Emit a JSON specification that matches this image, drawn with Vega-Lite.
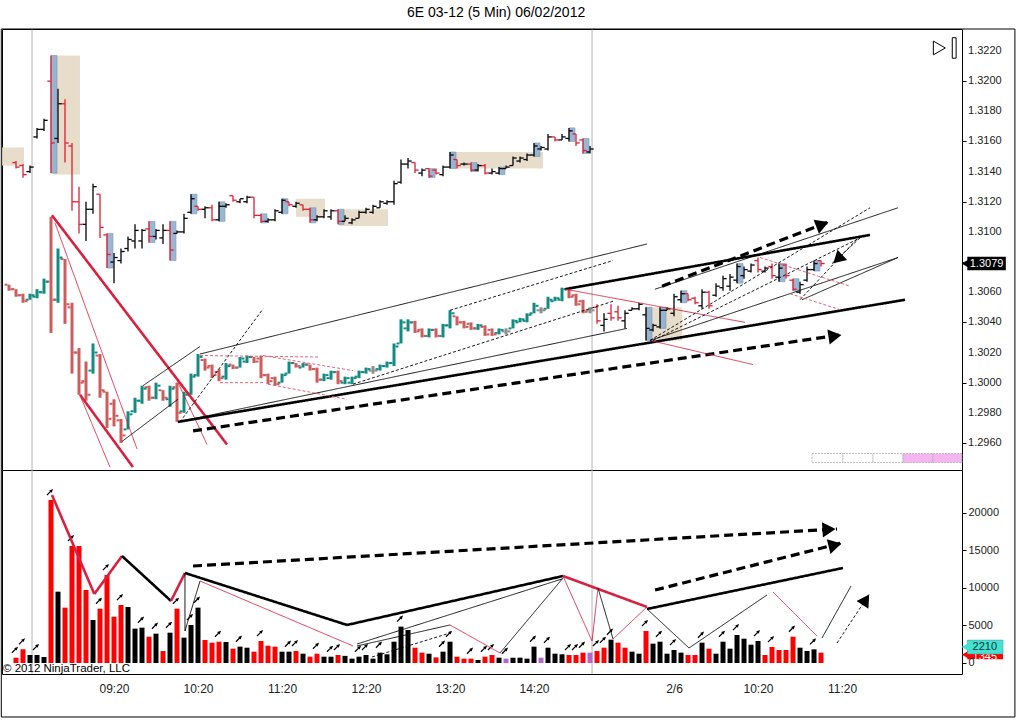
{
  "$schema": "https://vega.github.io/schema/vega-lite/v6.json",
  "title": {"text": "6E 03-12 (5 Min)  06/02/2012", "fontSize": 14, "fontWeight": "normal", "font": "Liberation Sans", "color": "#000000", "offset": 8, "anchor": "middle", "dx": -12},
  "padding": {"left": 0, "top": 6, "right": 0, "bottom": 0},
  "background": "white",
  "spacing": 0,
  "bounds": "flush",
  "config": {
    "view": {"stroke": "#000000", "strokeWidth": 1},
    "font": "Liberation Sans",
    "scale": {"continuousPadding": 0},
    "axis": {"labelFont": "Liberation Sans", "labelFontSize": 11, "labelColor": "#222222", "tickColor": "#000000", "domain": false, "grid": false, "title": null, "labelOverlap": false}
  },
  "datasets": {
    "thin": [
      {"k":0,"o":1.3146,"h":1.3147,"l":1.3142,"c":1.3143,"d":"dn"},
      {"k":1,"o":1.3144,"h":1.3145,"l":1.3136,"c":1.3138,"d":"dn"},
      {"k":2,"o":1.3140,"h":1.3144,"l":1.3139,"c":1.3143,"d":"up"},
      {"k":3,"o":1.3163,"h":1.3169,"l":1.3162,"c":1.3168,"d":"up"},
      {"k":4,"o":1.3168,"h":1.3175,"l":1.3167,"c":1.3174,"d":"up"},
      {"k":5,"o":1.3200,"h":1.3217,"l":1.3139,"c":1.3159,"d":"dn","b":1},
      {"k":6,"o":1.3162,"h":1.3195,"l":1.3159,"c":1.3185,"d":"up"},
      {"k":7,"o":1.3185,"h":1.3188,"l":1.3146,"c":1.3159,"d":"dn"},
      {"k":8,"o":1.3157,"h":1.3159,"l":1.3114,"c":1.3120,"d":"dn"},
      {"k":9,"o":1.3120,"h":1.3130,"l":1.3099,"c":1.3105,"d":"dn"},
      {"k":10,"o":1.3105,"h":1.3120,"l":1.3094,"c":1.3115,"d":"up"},
      {"k":11,"o":1.3115,"h":1.3132,"l":1.3112,"c":1.3130,"d":"up"},
      {"k":12,"o":1.3125,"h":1.3125,"l":1.3096,"c":1.3103,"d":"dn"},
      {"k":13,"o":1.3098,"h":1.3099,"l":1.3076,"c":1.3085,"d":"dn","b":1},
      {"k":14,"o":1.3080,"h":1.3086,"l":1.3066,"c":1.3083,"d":"up"},
      {"k":15,"o":1.3081,"h":1.3089,"l":1.3079,"c":1.3087,"d":"up"},
      {"k":16,"o":1.3089,"h":1.3097,"l":1.3087,"c":1.3095,"d":"up"},
      {"k":17,"o":1.3094,"h":1.3105,"l":1.3089,"c":1.3101,"d":"up"},
      {"k":18,"o":1.3094,"h":1.3102,"l":1.3089,"c":1.3101,"d":"up"},
      {"k":19,"o":1.3102,"h":1.3107,"l":1.3093,"c":1.3097,"d":"dn","b":1},
      {"k":20,"o":1.3097,"h":1.3102,"l":1.3095,"c":1.3101,"d":"up"},
      {"k":21,"o":1.3096,"h":1.3105,"l":1.3092,"c":1.3101,"d":"up"},
      {"k":22,"o":1.3101,"h":1.3107,"l":1.3081,"c":1.3088,"d":"dn","b":1},
      {"k":23,"o":1.3099,"h":1.3101,"l":1.3099,"c":1.3100,"d":"up"},
      {"k":24,"o":1.3100,"h":1.3112,"l":1.3099,"c":1.3109,"d":"up"},
      {"k":25,"o":1.3113,"h":1.3125,"l":1.3112,"c":1.3122,"d":"up","b":1},
      {"k":26,"o":1.3117,"h":1.3117,"l":1.3114,"c":1.3115,"d":"dn"},
      {"k":27,"o":1.3115,"h":1.3117,"l":1.3109,"c":1.3116,"d":"up"},
      {"k":28,"o":1.3116,"h":1.3118,"l":1.3107,"c":1.3108,"d":"dn"},
      {"k":29,"o":1.3108,"h":1.3120,"l":1.3107,"c":1.3117,"d":"up","b":1},
      {"k":30,"o":1.3117,"h":1.3119,"l":1.3116,"c":1.3118,"d":"up"},
      {"k":31,"o":1.3124,"h":1.3124,"l":1.3120,"c":1.3121,"d":"dn"},
      {"k":32,"o":1.3120,"h":1.3122,"l":1.3119,"c":1.3122,"d":"up"},
      {"k":33,"o":1.3120,"h":1.3124,"l":1.3119,"c":1.3123,"d":"up"},
      {"k":34,"o":1.3123,"h":1.3123,"l":1.3109,"c":1.3111,"d":"dn"},
      {"k":35,"o":1.3111,"h":1.3112,"l":1.3106,"c":1.3107,"d":"dn","b":1},
      {"k":36,"o":1.3107,"h":1.3109,"l":1.3106,"c":1.3108,"d":"up"},
      {"k":37,"o":1.3108,"h":1.3115,"l":1.3107,"c":1.3114,"d":"up"},
      {"k":38,"o":1.3113,"h":1.3122,"l":1.3112,"c":1.3121,"d":"up","b":1},
      {"k":39,"o":1.3120,"h":1.3120,"l":1.3117,"c":1.3118,"d":"dn"},
      {"k":40,"o":1.3117,"h":1.3120,"l":1.3116,"c":1.3119,"d":"up"},
      {"k":41,"o":1.3118,"h":1.3118,"l":1.3114,"c":1.3115,"d":"dn"},
      {"k":42,"o":1.3115,"h":1.3116,"l":1.3106,"c":1.3108,"d":"dn","b":1},
      {"k":43,"o":1.3108,"h":1.3111,"l":1.3107,"c":1.3110,"d":"up"},
      {"k":44,"o":1.3110,"h":1.3115,"l":1.3109,"c":1.3114,"d":"up"},
      {"k":45,"o":1.3110,"h":1.3115,"l":1.3108,"c":1.3114,"d":"up"},
      {"k":46,"o":1.3114,"h":1.3115,"l":1.3105,"c":1.3107,"d":"dn","b":1},
      {"k":47,"o":1.3107,"h":1.3111,"l":1.3107,"c":1.3109,"d":"up"},
      {"k":48,"o":1.3106,"h":1.3109,"l":1.3105,"c":1.3108,"d":"up"},
      {"k":49,"o":1.3109,"h":1.3114,"l":1.3109,"c":1.3113,"d":"up"},
      {"k":50,"o":1.3113,"h":1.3116,"l":1.3112,"c":1.3115,"d":"up"},
      {"k":51,"o":1.3113,"h":1.3118,"l":1.3112,"c":1.3117,"d":"up"},
      {"k":52,"o":1.3116,"h":1.3121,"l":1.3116,"c":1.3120,"d":"up"},
      {"k":53,"o":1.3119,"h":1.3121,"l":1.3118,"c":1.3120,"d":"up"},
      {"k":54,"o":1.3120,"h":1.3134,"l":1.3118,"c":1.3132,"d":"up"},
      {"k":55,"o":1.3133,"h":1.3148,"l":1.3132,"c":1.3145,"d":"up"},
      {"k":56,"o":1.3145,"h":1.3149,"l":1.3142,"c":1.3147,"d":"up"},
      {"k":57,"o":1.3146,"h":1.3146,"l":1.3139,"c":1.3141,"d":"dn"},
      {"k":58,"o":1.3139,"h":1.3142,"l":1.3137,"c":1.3141,"d":"up"},
      {"k":59,"o":1.3142,"h":1.3142,"l":1.3136,"c":1.3137,"d":"dn","b":1},
      {"k":60,"o":1.3141,"h":1.3142,"l":1.3138,"c":1.3139,"d":"dn"},
      {"k":61,"o":1.3138,"h":1.3144,"l":1.3137,"c":1.3143,"d":"up"},
      {"k":62,"o":1.3143,"h":1.3153,"l":1.3142,"c":1.3151,"d":"up","b":1},
      {"k":63,"o":1.3148,"h":1.3148,"l":1.3142,"c":1.3144,"d":"dn"},
      {"k":64,"o":1.3145,"h":1.3146,"l":1.3144,"c":1.3145,"d":"up"},
      {"k":65,"o":1.3145,"h":1.3146,"l":1.3140,"c":1.3141,"d":"dn","b":1},
      {"k":66,"o":1.3141,"h":1.3145,"l":1.3140,"c":1.3144,"d":"up"},
      {"k":67,"o":1.3144,"h":1.3145,"l":1.3138,"c":1.3139,"d":"dn"},
      {"k":68,"o":1.3139,"h":1.3142,"l":1.3138,"c":1.3140,"d":"up"},
      {"k":69,"o":1.3139,"h":1.3143,"l":1.3138,"c":1.3142,"d":"up","b":1},
      {"k":70,"o":1.3142,"h":1.3144,"l":1.3142,"c":1.3143,"d":"up"},
      {"k":71,"o":1.3144,"h":1.3150,"l":1.3144,"c":1.3149,"d":"up"},
      {"k":72,"o":1.3147,"h":1.3150,"l":1.3146,"c":1.3149,"d":"up"},
      {"k":73,"o":1.3148,"h":1.3152,"l":1.3147,"c":1.3151,"d":"up"},
      {"k":74,"o":1.3151,"h":1.3159,"l":1.3150,"c":1.3157,"d":"up","b":1},
      {"k":75,"o":1.3155,"h":1.3157,"l":1.3154,"c":1.3156,"d":"up"},
      {"k":76,"o":1.3155,"h":1.3165,"l":1.3154,"c":1.3163,"d":"up"},
      {"k":77,"o":1.3163,"h":1.3163,"l":1.3160,"c":1.3161,"d":"dn"},
      {"k":78,"o":1.3161,"h":1.3165,"l":1.3161,"c":1.3163,"d":"up"},
      {"k":79,"o":1.3162,"h":1.3169,"l":1.3160,"c":1.3167,"d":"up","b":1},
      {"k":80,"o":1.3165,"h":1.3165,"l":1.3157,"c":1.3159,"d":"dn"},
      {"k":81,"o":1.3161,"h":1.3162,"l":1.3152,"c":1.3154,"d":"dn","b":1},
      {"k":82,"o":1.3153,"h":1.3157,"l":1.3152,"c":1.3155,"d":"up"},
      {"k":83,"o":1.3050,"h":1.3052,"l":1.3039,"c":1.3041,"d":"dn"},
      {"k":84,"o":1.3038,"h":1.3046,"l":1.3034,"c":1.3042,"d":"up"},
      {"k":85,"o":1.3046,"h":1.3052,"l":1.3041,"c":1.3043,"d":"dn"},
      {"k":86,"o":1.3047,"h":1.3051,"l":1.3041,"c":1.3043,"d":"dn"},
      {"k":87,"o":1.3041,"h":1.3048,"l":1.3036,"c":1.3046,"d":"up"},
      {"k":88,"o":1.3048,"h":1.3050,"l":1.3048,"c":1.3049,"d":"up"},
      {"k":89,"o":1.3049,"h":1.3053,"l":1.3048,"c":1.3052,"d":"up"},
      {"k":90,"o":1.3045,"h":1.3050,"l":1.3028,"c":1.3036,"d":"up","b":1},
      {"k":91,"o":1.3035,"h":1.3039,"l":1.3034,"c":1.3038,"d":"up"},
      {"k":92,"o":1.3037,"h":1.3050,"l":1.3036,"c":1.3048,"d":"up","b":1},
      {"k":93,"o":1.3048,"h":1.3050,"l":1.3048,"c":1.3049,"d":"up"},
      {"k":94,"o":1.3046,"h":1.3059,"l":1.3044,"c":1.3057,"d":"up"},
      {"k":95,"o":1.3055,"h":1.3061,"l":1.3053,"c":1.3059,"d":"up","b":1},
      {"k":96,"o":1.3059,"h":1.3059,"l":1.3054,"c":1.3055,"d":"dn"},
      {"k":97,"o":1.3056,"h":1.3057,"l":1.3052,"c":1.3053,"d":"dn"},
      {"k":98,"o":1.3051,"h":1.3062,"l":1.3049,"c":1.3060,"d":"up"},
      {"k":99,"o":1.3060,"h":1.3061,"l":1.3049,"c":1.3051,"d":"dn"},
      {"k":100,"o":1.3058,"h":1.3066,"l":1.3057,"c":1.3064,"d":"up"},
      {"k":101,"o":1.3063,"h":1.3071,"l":1.3061,"c":1.3069,"d":"up"},
      {"k":102,"o":1.3064,"h":1.3072,"l":1.3061,"c":1.3070,"d":"up"},
      {"k":103,"o":1.3068,"h":1.3079,"l":1.3066,"c":1.3077,"d":"up","b":1},
      {"k":104,"o":1.3071,"h":1.3077,"l":1.3069,"c":1.3075,"d":"up"},
      {"k":105,"o":1.3074,"h":1.3079,"l":1.3073,"c":1.3078,"d":"up"},
      {"k":106,"o":1.3081,"h":1.3083,"l":1.3073,"c":1.3075,"d":"dn"},
      {"k":107,"o":1.3074,"h":1.3077,"l":1.3073,"c":1.3076,"d":"up"},
      {"k":108,"o":1.3077,"h":1.3079,"l":1.3069,"c":1.3071,"d":"dn"},
      {"k":109,"o":1.3070,"h":1.3079,"l":1.3067,"c":1.3076,"d":"up","b":1},
      {"k":110,"o":1.3078,"h":1.3079,"l":1.3069,"c":1.3071,"d":"dn"},
      {"k":111,"o":1.3068,"h":1.3069,"l":1.3061,"c":1.3062,"d":"dn","b":1},
      {"k":112,"o":1.3060,"h":1.3067,"l":1.3059,"c":1.3065,"d":"up"},
      {"k":113,"o":1.3068,"h":1.3077,"l":1.3067,"c":1.3075,"d":"up"},
      {"k":114,"o":1.3075,"h":1.3081,"l":1.3074,"c":1.3079,"d":"up","b":1},
      {"k":115,"o":1.3081,"h":1.3081,"l":1.3077,"c":1.3079,"d":"dn"}
    ],
    "thick": [
      {"k":-1,"o":1.3065,"h":1.3065,"l":1.3061,"c":1.3062,"d":"dn"},
      {"k":0,"o":1.3062,"h":1.3062,"l":1.3057,"c":1.3058,"d":"dn"},
      {"k":1,"o":1.3058,"h":1.3059,"l":1.3053,"c":1.3054,"d":"dn"},
      {"k":2,"o":1.3055,"h":1.3059,"l":1.3055,"c":1.3058,"d":"up"},
      {"k":3,"o":1.3057,"h":1.3062,"l":1.3056,"c":1.3060,"d":"up"},
      {"k":4,"o":1.3060,"h":1.3069,"l":1.3059,"c":1.3067,"d":"up"},
      {"k":5,"o":1.3067,"h":1.3110,"l":1.3033,"c":1.3055,"d":"dn"},
      {"k":6,"o":1.3055,"h":1.3089,"l":1.3053,"c":1.3083,"d":"up"},
      {"k":7,"o":1.3082,"h":1.3082,"l":1.3039,"c":1.3052,"d":"dn"},
      {"k":8,"o":1.3050,"h":1.3053,"l":1.3006,"c":1.3020,"d":"dn"},
      {"k":9,"o":1.3020,"h":1.3023,"l":1.2992,"c":1.3000,"d":"dn"},
      {"k":10,"o":1.3001,"h":1.3014,"l":1.2988,"c":1.2992,"d":"dn"},
      {"k":11,"o":1.3008,"h":1.3026,"l":1.3006,"c":1.3020,"d":"up"},
      {"k":12,"o":1.3018,"h":1.3019,"l":1.2990,"c":1.2995,"d":"dn"},
      {"k":13,"o":1.2994,"h":1.2994,"l":1.2970,"c":1.2976,"d":"dn"},
      {"k":14,"o":1.2986,"h":1.2989,"l":1.2971,"c":1.2978,"d":"dn"},
      {"k":15,"o":1.2975,"h":1.2976,"l":1.2960,"c":1.2965,"d":"dn"},
      {"k":16,"o":1.2969,"h":1.2981,"l":1.2969,"c":1.2979,"d":"up"},
      {"k":17,"o":1.2981,"h":1.2990,"l":1.2980,"c":1.2988,"d":"up"},
      {"k":18,"o":1.2988,"h":1.2998,"l":1.2986,"c":1.2996,"d":"up"},
      {"k":19,"o":1.2997,"h":1.2998,"l":1.2988,"c":1.2990,"d":"dn"},
      {"k":20,"o":1.2990,"h":1.3000,"l":1.2989,"c":1.2998,"d":"up"},
      {"k":21,"o":1.2995,"h":1.2995,"l":1.2988,"c":1.2990,"d":"dn"},
      {"k":22,"o":1.2989,"h":1.2998,"l":1.2984,"c":1.2996,"d":"up"},
      {"k":23,"o":1.2997,"h":1.3000,"l":1.2974,"c":1.2980,"d":"dn"},
      {"k":24,"o":1.2981,"h":1.2994,"l":1.2980,"c":1.2992,"d":"up"},
      {"k":25,"o":1.2993,"h":1.3006,"l":1.2992,"c":1.3004,"d":"up"},
      {"k":26,"o":1.3005,"h":1.3019,"l":1.3004,"c":1.3017,"d":"up"},
      {"k":27,"o":1.3015,"h":1.3016,"l":1.3008,"c":1.3010,"d":"dn"},
      {"k":28,"o":1.3011,"h":1.3012,"l":1.3003,"c":1.3005,"d":"dn"},
      {"k":29,"o":1.3007,"h":1.3009,"l":1.3001,"c":1.3003,"d":"dn"},
      {"k":30,"o":1.3004,"h":1.3013,"l":1.3002,"c":1.3011,"d":"up"},
      {"k":31,"o":1.3012,"h":1.3012,"l":1.3009,"c":1.3010,"d":"dn"},
      {"k":32,"o":1.3010,"h":1.3017,"l":1.3010,"c":1.3016,"d":"up"},
      {"k":33,"o":1.3014,"h":1.3018,"l":1.3013,"c":1.3017,"d":"up"},
      {"k":34,"o":1.3017,"h":1.3017,"l":1.3013,"c":1.3014,"d":"dn"},
      {"k":35,"o":1.3016,"h":1.3018,"l":1.3003,"c":1.3005,"d":"dn"},
      {"k":36,"o":1.3005,"h":1.3006,"l":1.2999,"c":1.3001,"d":"dn"},
      {"k":37,"o":1.3003,"h":1.3004,"l":1.2998,"c":1.2999,"d":"dn"},
      {"k":38,"o":1.3000,"h":1.3006,"l":1.3000,"c":1.3005,"d":"up"},
      {"k":39,"o":1.3006,"h":1.3014,"l":1.3006,"c":1.3013,"d":"up"},
      {"k":40,"o":1.3013,"h":1.3013,"l":1.3010,"c":1.3011,"d":"dn"},
      {"k":41,"o":1.3010,"h":1.3013,"l":1.3010,"c":1.3012,"d":"up"},
      {"k":42,"o":1.3012,"h":1.3012,"l":1.3008,"c":1.3009,"d":"dn"},
      {"k":43,"o":1.3009,"h":1.3010,"l":1.3000,"c":1.3002,"d":"dn"},
      {"k":44,"o":1.3002,"h":1.3006,"l":1.3001,"c":1.3005,"d":"up"},
      {"k":45,"o":1.3003,"h":1.3008,"l":1.3002,"c":1.3007,"d":"up"},
      {"k":46,"o":1.3007,"h":1.3008,"l":1.2999,"c":1.3001,"d":"dn"},
      {"k":47,"o":1.3000,"h":1.3004,"l":1.2999,"c":1.3003,"d":"up"},
      {"k":48,"o":1.3000,"h":1.3004,"l":1.2999,"c":1.3003,"d":"up"},
      {"k":49,"o":1.3004,"h":1.3008,"l":1.3003,"c":1.3007,"d":"up"},
      {"k":50,"o":1.3007,"h":1.3010,"l":1.3006,"c":1.3009,"d":"up"},
      {"k":51,"o":1.3008,"h":1.3011,"l":1.3006,"c":1.3008,"d":"fl"},
      {"k":52,"o":1.3009,"h":1.3012,"l":1.3008,"c":1.3011,"d":"up"},
      {"k":53,"o":1.3011,"h":1.3014,"l":1.3010,"c":1.3013,"d":"up"},
      {"k":54,"o":1.3013,"h":1.3026,"l":1.3011,"c":1.3024,"d":"up"},
      {"k":55,"o":1.3026,"h":1.3042,"l":1.3026,"c":1.3040,"d":"up"},
      {"k":56,"o":1.3036,"h":1.3042,"l":1.3034,"c":1.3040,"d":"up"},
      {"k":57,"o":1.3040,"h":1.3041,"l":1.3033,"c":1.3034,"d":"dn"},
      {"k":58,"o":1.3035,"h":1.3036,"l":1.3030,"c":1.3031,"d":"dn"},
      {"k":59,"o":1.3031,"h":1.3036,"l":1.3030,"c":1.3035,"d":"up"},
      {"k":60,"o":1.3035,"h":1.3036,"l":1.3030,"c":1.3031,"d":"dn"},
      {"k":61,"o":1.3031,"h":1.3039,"l":1.3030,"c":1.3038,"d":"up"},
      {"k":62,"o":1.3038,"h":1.3048,"l":1.3036,"c":1.3046,"d":"up"},
      {"k":63,"o":1.3044,"h":1.3044,"l":1.3038,"c":1.3040,"d":"dn"},
      {"k":64,"o":1.3040,"h":1.3041,"l":1.3036,"c":1.3037,"d":"dn"},
      {"k":65,"o":1.3039,"h":1.3040,"l":1.3035,"c":1.3036,"d":"dn"},
      {"k":66,"o":1.3036,"h":1.3039,"l":1.3035,"c":1.3038,"d":"up"},
      {"k":67,"o":1.3037,"h":1.3038,"l":1.3031,"c":1.3032,"d":"dn"},
      {"k":68,"o":1.3035,"h":1.3036,"l":1.3031,"c":1.3032,"d":"dn"},
      {"k":69,"o":1.3033,"h":1.3036,"l":1.3032,"c":1.3035,"d":"up"},
      {"k":70,"o":1.3034,"h":1.3036,"l":1.3032,"c":1.3034,"d":"fl"},
      {"k":71,"o":1.3036,"h":1.3042,"l":1.3036,"c":1.3041,"d":"up"},
      {"k":72,"o":1.3040,"h":1.3043,"l":1.3040,"c":1.3042,"d":"up"},
      {"k":73,"o":1.3041,"h":1.3046,"l":1.3040,"c":1.3045,"d":"up"},
      {"k":74,"o":1.3046,"h":1.3053,"l":1.3046,"c":1.3051,"d":"up"},
      {"k":75,"o":1.3048,"h":1.3050,"l":1.3046,"c":1.3048,"d":"fl"},
      {"k":76,"o":1.3049,"h":1.3057,"l":1.3049,"c":1.3055,"d":"up"},
      {"k":77,"o":1.3054,"h":1.3057,"l":1.3054,"c":1.3056,"d":"up"},
      {"k":78,"o":1.3055,"h":1.3063,"l":1.3054,"c":1.3062,"d":"up"},
      {"k":79,"o":1.3062,"h":1.3062,"l":1.3056,"c":1.3057,"d":"dn"},
      {"k":80,"o":1.3058,"h":1.3059,"l":1.3051,"c":1.3052,"d":"dn"},
      {"k":81,"o":1.3054,"h":1.3055,"l":1.3046,"c":1.3047,"d":"dn"},
      {"k":82,"o":1.3048,"h":1.3050,"l":1.3046,"c":1.3048,"d":"fl"}
    ],
    "vol": [
      {"k":0,"v":700,"d":"dn","a":1},{"k":1,"v":1830,"d":"dn","a":1},{"k":2,"v":1070,"d":"up","a":0},{"k":3,"v":1070,"d":"up","a":1},
      {"k":4,"v":800,"d":"up","a":0},{"k":5,"v":21730,"d":"dn","a":1},{"k":6,"v":9510,"d":"up","a":0},{"k":7,"v":7380,"d":"dn","a":0},
      {"k":8,"v":15600,"d":"dn","a":1},{"k":9,"v":15600,"d":"dn","a":0},{"k":10,"v":9730,"d":"dn","a":0},{"k":11,"v":5730,"d":"up","a":0},
      {"k":12,"v":7240,"d":"dn","a":1},{"k":13,"v":11730,"d":"dn","a":1},{"k":14,"v":6180,"d":"dn","a":0},{"k":15,"v":7730,"d":"dn","a":1},
      {"k":16,"v":7470,"d":"up","a":0},{"k":17,"v":4580,"d":"up","a":0},{"k":18,"v":4710,"d":"up","a":1},{"k":19,"v":3510,"d":"dn","a":0},
      {"k":20,"v":3910,"d":"up","a":1},{"k":21,"v":1600,"d":"dn","a":0},{"k":22,"v":4040,"d":"up","a":1},{"k":23,"v":7240,"d":"dn","a":1},
      {"k":24,"v":3380,"d":"up","a":0},{"k":25,"v":5070,"d":"up","a":1},{"k":26,"v":7380,"d":"up","a":1},{"k":27,"v":3070,"d":"dn","a":0},
      {"k":28,"v":2710,"d":"dn","a":0},{"k":29,"v":2840,"d":"dn","a":1},{"k":30,"v":2800,"d":"up","a":0},{"k":31,"v":1910,"d":"dn","a":0},
      {"k":32,"v":2180,"d":"up","a":1},{"k":33,"v":2040,"d":"up","a":0},{"k":34,"v":1510,"d":"dn","a":0},{"k":35,"v":2930,"d":"dn","a":1},
      {"k":36,"v":2310,"d":"dn","a":0},{"k":37,"v":2180,"d":"dn","a":0},{"k":38,"v":1510,"d":"up","a":0},{"k":39,"v":1510,"d":"up","a":1},
      {"k":40,"v":1600,"d":"dn","a":1},{"k":41,"v":1240,"d":"up","a":0},{"k":42,"v":840,"d":"dn","a":0},{"k":43,"v":1240,"d":"dn","a":1},
      {"k":44,"v":840,"d":"up","a":0},{"k":45,"v":840,"d":"up","a":1},{"k":46,"v":1070,"d":"dn","a":1},{"k":47,"v":950,"d":"up","a":0},
      {"k":48,"v":580,"d":"up","a":0},{"k":49,"v":840,"d":"up","a":1},{"k":50,"v":1070,"d":"up","a":1},{"k":51,"v":580,"d":"up","a":0},
      {"k":52,"v":1380,"d":"up","a":1},{"k":53,"v":1160,"d":"up","a":0},{"k":54,"v":2840,"d":"up","a":0},{"k":55,"v":4850,"d":"up","a":1},
      {"k":56,"v":4400,"d":"up","a":0},{"k":57,"v":2040,"d":"dn","a":0},{"k":58,"v":1380,"d":"dn","a":0},{"k":59,"v":1240,"d":"up","a":0},
      {"k":60,"v":750,"d":"dn","a":0},{"k":61,"v":1510,"d":"up","a":1},{"k":62,"v":2840,"d":"up","a":1},{"k":63,"v":840,"d":"dn","a":0},
      {"k":64,"v":580,"d":"dn","a":0},{"k":65,"v":580,"d":"dn","a":1},{"k":66,"v":400,"d":"up","a":0},{"k":67,"v":840,"d":"dn","a":1},
      {"k":68,"v":1070,"d":"dn","a":1},{"k":69,"v":710,"d":"up","a":0},{"k":70,"v":580,"d":"pu","a":1},{"k":71,"v":710,"d":"up","a":0},
      {"k":72,"v":710,"d":"up","a":0},{"k":73,"v":580,"d":"up","a":0},{"k":74,"v":2180,"d":"up","a":1},{"k":75,"v":710,"d":"pu","a":0},
      {"k":76,"v":2040,"d":"up","a":1},{"k":77,"v":1240,"d":"up","a":0},{"k":78,"v":1160,"d":"up","a":0},{"k":79,"v":1070,"d":"dn","a":1},
      {"k":80,"v":1070,"d":"dn","a":1},{"k":81,"v":1380,"d":"dn","a":1},{"k":82,"v":1380,"d":"pu","a":0},{"k":83,"v":1600,"d":"dn","a":1},
      {"k":84,"v":2040,"d":"dn","a":1},{"k":85,"v":3110,"d":"up","a":1},{"k":86,"v":2710,"d":"dn","a":0},{"k":87,"v":2040,"d":"dn","a":0},
      {"k":88,"v":1510,"d":"up","a":0},{"k":89,"v":1240,"d":"up","a":0},{"k":90,"v":4270,"d":"dn","a":1},{"k":91,"v":2580,"d":"up","a":0},
      {"k":92,"v":2840,"d":"up","a":1},{"k":93,"v":1240,"d":"up","a":0},{"k":94,"v":1730,"d":"up","a":1},{"k":95,"v":1380,"d":"up","a":0},
      {"k":96,"v":1070,"d":"dn","a":0},{"k":97,"v":1070,"d":"dn","a":0},{"k":98,"v":2710,"d":"up","a":1},{"k":99,"v":1910,"d":"dn","a":0},
      {"k":100,"v":1240,"d":"up","a":0},{"k":101,"v":2840,"d":"up","a":1},{"k":102,"v":1910,"d":"up","a":0},{"k":103,"v":3730,"d":"up","a":1},
      {"k":104,"v":3240,"d":"up","a":0},{"k":105,"v":2440,"d":"up","a":0},{"k":106,"v":2930,"d":"up","a":1},{"k":107,"v":1070,"d":"dn","a":0},
      {"k":108,"v":2130,"d":"dn","a":1},{"k":109,"v":1730,"d":"dn","a":0},{"k":110,"v":1730,"d":"dn","a":0},{"k":111,"v":3510,"d":"dn","a":1},
      {"k":112,"v":2040,"d":"up","a":0},{"k":113,"v":1600,"d":"up","a":0},{"k":114,"v":1820,"d":"up","a":1},{"k":115,"v":1380,"d":"dn","a":0}
    ],
    "psegs": [
      {"k":5.14,"k2":30.14,"p":1.3111,"p2":1.2959,"s":"TR"},
      {"k":9.14,"k2":16.71,"p":1.2992,"p2":1.2944,"s":"TR"},
      {"k":5.57,"k2":17.29,"p":1.3106,"p2":1.2956,"s":"tr"},
      {"k":9.29,"k2":13.43,"p":1.2990,"p2":1.2944,"s":"tr"},
      {"k":23.14,"k2":27.29,"p":1.3000,"p2":1.2959,"s":"tr"},
      {"k":15.14,"k2":23.14,"p":1.2961,"p2":1.2989,"s":"tb"},
      {"k":18.14,"k2":26.29,"p":1.2998,"p2":1.3024,"s":"tb"},
      {"k":23.43,"k2":35.29,"p":1.2974,"p2":1.3049,"s":"db"},
      {"k":26.29,"k2":90.14,"p":1.3019,"p2":1.3092,"s":"tb"},
      {"k":23.14,"k2":127,"p":1.2974,"p2":1.3055,"s":"TB"},
      {"k":25.29,"k2":118.14,"p":1.2968,"p2":1.3032,"s":"DB"},
      {"k":23.14,"k2":87.29,"p":1.2974,"p2":1.3036,"s":"tb"},
      {"k":48.14,"k2":85.29,"p":1.2999,"p2":1.3054,"s":"db"},
      {"k":62,"k2":85.29,"p":1.3048,"p2":1.3081,"s":"db"},
      {"k":78.43,"k2":122,"p":1.3062,"p2":1.3098,"s":"TB"},
      {"k":78.43,"k2":104.14,"p":1.3062,"p2":1.3040,"s":"tr"},
      {"k":90.57,"k2":105.29,"p":1.3028,"p2":1.3012,"s":"tr"},
      {"k":90.57,"k2":126,"p":1.3028,"p2":1.3083,"s":"tb"},
      {"k":91.29,"k2":126,"p":1.3062,"p2":1.3116,"s":"tb"},
      {"k":90.57,"k2":122,"p":1.3028,"p2":1.3116,"s":"db"},
      {"k":91,"k2":120.57,"p":1.3028,"p2":1.3096,"s":"db"},
      {"k":92.29,"k2":116.29,"p":1.3064,"p2":1.3107,"s":"DB"},
      {"k":112.29,"k2":126,"p":1.3055,"p2":1.3083,"s":"tb"},
      {"k":120.57,"k2":116.57,"p":1.3096,"p2":1.3079,"s":"db"},
      {"k":106.29,"k2":119.14,"p":1.3083,"p2":1.3064,"s":"dr"},
      {"k":110.57,"k2":118,"p":1.3059,"p2":1.3048,"s":"dr"},
      {"k":26.29,"k2":43.14,"p":1.3018,"p2":1.3017,"s":"dr"},
      {"k":35.29,"k2":48.14,"p":1.3018,"p2":1.3008,"s":"dr"},
      {"k":29.14,"k2":35.29,"p":1.3000,"p2":1.3000,"s":"dr"},
      {"k":36,"k2":47.29,"p":1.2999,"p2":1.2989,"s":"dr"},
      {"k":112,"k2":120.29,"p":1.3055,"p2":1.3096,"s":"db"}
    ],
    "vsegs": [
      {"k":5.14,"k2":11.19,"v":22400,"v2":9200,"s":"TR"},
      {"k":11.19,"k2":15.14,"v":9200,"v2":14270,"s":"TR"},
      {"k":15.14,"k2":22.14,"v":14270,"v2":8270,"s":"TB"},
      {"k":22.14,"k2":24.14,"v":8270,"v2":12000,"s":"TR"},
      {"k":24.14,"k2":47.29,"v":12000,"v2":5070,"s":"TB"},
      {"k":47.29,"k2":78.14,"v":5070,"v2":11600,"s":"TB"},
      {"k":24.14,"k2":24.14,"v":12000,"v2":4270,"s":"tb"},
      {"k":24.14,"k2":26.29,"v":4270,"v2":10930,"s":"tb"},
      {"k":26.29,"k2":48.14,"v":10930,"v2":2270,"s":"tr"},
      {"k":48.71,"k2":78,"v":2530,"v2":11200,"s":"tb"},
      {"k":48.71,"k2":62,"v":2270,"v2":5070,"s":"tb"},
      {"k":62,"k2":69.14,"v":5070,"v2":1330,"s":"tr"},
      {"k":69.14,"k2":78.14,"v":1330,"v2":11330,"s":"tb"},
      {"k":78.14,"k2":90.14,"v":11600,"v2":7470,"s":"TR"},
      {"k":78.14,"k2":82.29,"v":11600,"v2":2930,"s":"tr"},
      {"k":82.29,"k2":83.14,"v":2930,"v2":10000,"s":"tr"},
      {"k":83.14,"k2":85.29,"v":10000,"v2":3200,"s":"tb"},
      {"k":85.29,"k2":90.14,"v":3200,"v2":7470,"s":"tr"},
      {"k":90.14,"k2":118.14,"v":7200,"v2":12670,"s":"TB"},
      {"k":90.14,"k2":96.14,"v":7200,"v2":2000,"s":"tb"},
      {"k":96.14,"k2":107.29,"v":2000,"v2":9070,"s":"tb"},
      {"k":108.14,"k2":114.43,"v":9470,"v2":3600,"s":"tr"},
      {"k":115.14,"k2":119.29,"v":3330,"v2":10270,"s":"tb"},
      {"k":117.29,"k2":122,"v":2670,"v2":9330,"s":"db"},
      {"k":25.29,"k2":117.29,"v":12930,"v2":17870,"s":"DB"},
      {"k":91.29,"k2":118.14,"v":9730,"v2":16040,"s":"DB"},
      {"k":50.86,"k2":62,"v":800,"v2":4000,"s":"db"}
    ],
    "zones": [
      {"k":-2,"k2":1.14,"p":1.3156,"p2":1.3144},
      {"k":5.29,"k2":9.14,"p":1.3217,"p2":1.3138},
      {"k":40,"k2":44.14,"p":1.3122,"p2":1.3110},
      {"k":46.14,"k2":53.14,"p":1.3115,"p2":1.3104},
      {"k":62.29,"k2":75.29,"p":1.3153,"p2":1.3142},
      {"k":90.14,"k2":95.14,"p":1.3050,"p2":1.3028}
    ],
    "cells": [
      {"k":113.71,"k2":118.14,"p":1.2953,"p2":1.2947,"f":"w"},
      {"k":118.14,"k2":122.43,"p":1.2953,"p2":1.2947,"f":"w"},
      {"k":122.43,"k2":126.71,"p":1.2953,"p2":1.2947,"f":"w"},
      {"k":126.71,"k2":131,"p":1.2953,"p2":1.2947,"f":"p"},
      {"k":131,"k2":135.14,"p":1.2953,"p2":1.2947,"f":"p"}
    ],
    "plabels": [
      {"k":136,"p":1.296},{"k":136,"p":1.298},{"k":136,"p":1.300},{"k":136,"p":1.302},{"k":136,"p":1.304},
      {"k":136,"p":1.306},{"k":136,"p":1.310},{"k":136,"p":1.312},{"k":136,"p":1.314},
      {"k":136,"p":1.316},{"k":136,"p":1.318},{"k":136,"p":1.320},{"k":136,"p":1.322}
    ],
    "breaks": [{"k":2.29},{"k":82.29}]
  },
  "vconcat": [
    {
      "width": 960,
      "height": 441,
      "encoding": {
        "x": {"field": "k", "type": "quantitative", "scale": {"domain": [-2, 135.14], "nice": false, "zero": false, "padding": 0}, "axis": null}
      },
      "layer": [
        {
          "data": {"name": "zones"},
          "mark": {"type": "rect", "color": "#e6d9c5", "opacity": 0.9},
          "encoding": {
            "x2": {"field": "k2"},
            "y": {"field": "p", "type": "quantitative", "scale": {"domain": [1.294207, 1.323459], "nice": false, "zero": false, "padding": 0},
                  "axis": {"orient": "right", "values": [1.296,1.298,1.300,1.302,1.304,1.306,1.308,1.310,1.312,1.314,1.316,1.318,1.320,1.322], "tickSize": 4, "labels": false}},
            "y2": {"field": "p2"}
          }
        },
        {
          "data": {"name": "breaks"},
          "mark": {"type": "rule", "color": "#b4b4b4", "strokeWidth": 1},
          "encoding": {}
        },
        {
          "data": {"name": "cells"},
          "mark": {"type": "rect", "stroke": "#b0b0b0", "strokeWidth": 0.8, "strokeDash": [2, 1]},
          "encoding": {
            "x2": {"field": "k2"},
            "y": {"field": "p", "type": "quantitative", "scale": {"domain": [1.294207, 1.323459], "nice": false, "zero": false, "padding": 0}},
            "y2": {"field": "p2"},
            "fill": {"condition": {"test": "datum.f=='p'", "value": "#f3b6f0"}, "value": "#ffffff"}
          }
        },
        {
          "data": {"name": "thin"},
          "transform": [{"filter": "datum.b==1"}],
          "mark": {"type": "bar", "width": 6, "xOffset": 3, "color": "#8eb0d1", "stroke": "#6d8fb2", "strokeWidth": 0.6, "opacity": 0.9},
          "encoding": {
            "y": {"field": "h", "type": "quantitative", "scale": {"domain": [1.294207, 1.323459], "nice": false, "zero": false, "padding": 0}},
            "y2": {"field": "l"}
          }
        },
        {
          "data": {"name": "thick"},
          "mark": {"type": "rule", "strokeWidth": 3},
          "encoding": {
            "y": {"field": "h", "type": "quantitative", "scale": {"domain": [1.294207, 1.323459], "nice": false, "zero": false, "padding": 0}},
            "y2": {"field": "l"},
            "color": {"condition": [{"test": "datum.d=='dn'", "value": "#cd5c5c"}, {"test": "datum.d=='fl'", "value": "#8c8c8c"}], "value": "#138b83"}
          }
        },
        {
          "data": {"name": "thick"},
          "mark": {"type": "tick", "orient": "horizontal", "size": 3, "thickness": 2, "xOffset": -3, "opacity": 1},
          "encoding": {
            "y": {"field": "o", "type": "quantitative", "scale": {"domain": [1.294207, 1.323459], "nice": false, "zero": false, "padding": 0}},
            "color": {"condition": [{"test": "datum.d=='dn'", "value": "#cd5c5c"}, {"test": "datum.d=='fl'", "value": "#8c8c8c"}], "value": "#138b83"}
          }
        },
        {
          "data": {"name": "thick"},
          "mark": {"type": "tick", "orient": "horizontal", "size": 3, "thickness": 2, "xOffset": 3, "opacity": 1},
          "encoding": {
            "y": {"field": "c", "type": "quantitative", "scale": {"domain": [1.294207, 1.323459], "nice": false, "zero": false, "padding": 0}},
            "color": {"condition": [{"test": "datum.d=='dn'", "value": "#cd5c5c"}, {"test": "datum.d=='fl'", "value": "#8c8c8c"}], "value": "#138b83"}
          }
        },
        {
          "data": {"name": "thin"},
          "mark": {"type": "rule", "strokeWidth": 1.3},
          "encoding": {
            "y": {"field": "h", "type": "quantitative", "scale": {"domain": [1.294207, 1.323459], "nice": false, "zero": false, "padding": 0}},
            "y2": {"field": "l"},
            "color": {"condition": {"test": "datum.d=='dn'", "value": "#dc1e32"}, "value": "#000000"}
          }
        },
        {
          "data": {"name": "thin"},
          "mark": {"type": "tick", "orient": "horizontal", "size": 3.5, "thickness": 1.3, "xOffset": -1.9, "opacity": 1},
          "encoding": {
            "y": {"field": "o", "type": "quantitative", "scale": {"domain": [1.294207, 1.323459], "nice": false, "zero": false, "padding": 0}},
            "color": {"condition": {"test": "datum.d=='dn'", "value": "#dc1e32"}, "value": "#000000"}
          }
        },
        {
          "data": {"name": "thin"},
          "mark": {"type": "tick", "orient": "horizontal", "size": 3.5, "thickness": 1.3, "xOffset": 1.9, "opacity": 1},
          "encoding": {
            "y": {"field": "c", "type": "quantitative", "scale": {"domain": [1.294207, 1.323459], "nice": false, "zero": false, "padding": 0}},
            "color": {"condition": {"test": "datum.d=='dn'", "value": "#dc1e32"}, "value": "#000000"}
          }
        },
        {
          "data": {"name": "psegs"},
          "mark": {"type": "rule"},
          "encoding": {
            "x2": {"field": "k2"},
            "y": {"field": "p", "type": "quantitative", "scale": {"domain": [1.294207, 1.323459], "nice": false, "zero": false, "padding": 0}},
            "y2": {"field": "p2"},
            "color": {"condition": [{"test": "datum.s=='tr'||datum.s=='TR'", "value": "#d8203f"}, {"test": "datum.s=='dr'", "value": "#e0506a"}], "value": "#000000"},
            "strokeWidth": {"condition": [{"test": "datum.s=='TB'||datum.s=='TR'", "value": 2.6}, {"test": "datum.s=='DB'", "value": 3.2}], "value": 0.9},
            "strokeDash": {"condition": [{"test": "datum.s=='DB'", "value": [9, 5]}, {"test": "datum.s=='db'||datum.s=='dr'", "value": [3, 2]}], "value": [1, 0]}
          }
        },
        {
          "data": {"values": [{"k": 117, "p": 1.3031}]},
          "mark": {"type": "point", "shape": "triangle-up", "filled": true, "color": "#000000", "size": 230, "angle": 81.5, "opacity": 1},
          "encoding": {"y": {"field": "p", "type": "quantitative", "scale": {"domain": [1.294207, 1.323459], "nice": false, "zero": false, "padding": 0}}}
        },
        {
          "data": {"values": [{"k": 115.2, "p": 1.3105}]},
          "mark": {"type": "point", "shape": "triangle-up", "filled": true, "color": "#000000", "size": 230, "angle": 69, "opacity": 1},
          "encoding": {"y": {"field": "p", "type": "quantitative", "scale": {"domain": [1.294207, 1.323459], "nice": false, "zero": false, "padding": 0}}}
        },
        {
          "data": {"values": [{"k": 117.4, "p": 1.3082}]},
          "mark": {"type": "point", "shape": "triangle-up", "filled": true, "color": "#000000", "size": 200, "angle": 227, "opacity": 1},
          "encoding": {"y": {"field": "p", "type": "quantitative", "scale": {"domain": [1.294207, 1.323459], "nice": false, "zero": false, "padding": 0}}}
        },
        {
          "data": {"values": [{"k": 131.9, "p": 1.3222}]},
          "mark": {"type": "point", "shape": "triangle-right", "filled": false, "color": "#000000", "strokeWidth": 1, "size": 190, "opacity": 1},
          "encoding": {"y": {"field": "p", "type": "quantitative", "scale": {"domain": [1.294207, 1.323459], "nice": false, "zero": false, "padding": 0}}}
        },
        {
          "data": {"values": [{"k": 133.75, "k2": 134.3, "p": 1.32288, "p2": 1.32152}]},
          "mark": {"type": "rect", "filled": false, "color": "#000000", "strokeWidth": 1},
          "encoding": {
            "x2": {"field": "k2"},
            "y": {"field": "p", "type": "quantitative", "scale": {"domain": [1.294207, 1.323459], "nice": false, "zero": false, "padding": 0}},
            "y2": {"field": "p2"}
          }
        },
        {
          "data": {"name": "plabels"},
          "mark": {"type": "text", "fontSize": 11, "color": "#222222", "align": "left", "baseline": "middle"},
          "encoding": {
            "y": {"field": "p", "type": "quantitative", "scale": {"domain": [1.294207, 1.323459], "nice": false, "zero": false, "padding": 0}},
            "text": {"field": "p", "type": "quantitative", "format": ".4f"}
          }
        },
        {
          "data": {"values": [{"k": 135.9, "k2": 141.4, "p": 1.30835, "p2": 1.30745}]},
          "mark": {"type": "rect", "color": "#000000"},
          "encoding": {
            "x2": {"field": "k2"},
            "y": {"field": "p", "type": "quantitative", "scale": {"domain": [1.294207, 1.323459], "nice": false, "zero": false, "padding": 0}},
            "y2": {"field": "p2"}
          }
        },
        {
          "data": {"values": [{"k": 135.6, "p": 1.3079}]},
          "mark": {"type": "point", "shape": "triangle-left", "filled": true, "color": "#000000", "size": 70, "opacity": 1},
          "encoding": {"y": {"field": "p", "type": "quantitative", "scale": {"domain": [1.294207, 1.323459], "nice": false, "zero": false, "padding": 0}}}
        },
        {
          "data": {"values": [{"k": 138.65, "p": 1.3079, "t": "1.3079"}]},
          "mark": {"type": "text", "fontSize": 11, "color": "#ffffff", "align": "center", "baseline": "middle"},
          "encoding": {
            "y": {"field": "p", "type": "quantitative", "scale": {"domain": [1.294207, 1.323459], "nice": false, "zero": false, "padding": 0}},
            "text": {"field": "t"}
          }
        }
      ]
    },
    {
      "width": 960,
      "height": 204,
      "encoding": {
        "x": {"field": "k", "type": "quantitative", "scale": {"domain": [-2, 135.14], "nice": false, "zero": false, "padding": 0},
              "axis": {"values": [14, 26, 38, 50, 62, 74, 94, 106, 118], "tickSize": 0, "labelPadding": 9, "labelFontSize": 12, "labelFlush": false,
                       "labelExpr": "datum.value==14?'09:20':datum.value==26?'10:20':datum.value==38?'11:20':datum.value==50?'12:20':datum.value==62?'13:20':datum.value==74?'14:20':datum.value==94?'2/6':datum.value==106?'10:20':'11:20'"}}
      },
      "layer": [
        {
          "data": {"name": "breaks"},
          "mark": {"type": "rule", "color": "#b4b4b4", "strokeWidth": 1},
          "encoding": {}
        },
        {
          "data": {"name": "vol"},
          "mark": {"type": "bar", "width": 5},
          "encoding": {
            "y": {"field": "v", "type": "quantitative", "scale": {"domain": [-1467, 25733], "nice": false, "zero": false, "padding": 0},
                  "axis": {"orient": "right", "values": [0, 5000, 10000, 15000, 20000], "format": "d", "tickSize": 4, "labelPadding": 2, "labelOverlap": false, "zindex": 1}},
            "color": {"condition": [{"test": "datum.d=='dn'", "value": "#ff0000"}, {"test": "datum.d=='pu'", "value": "#b466cc"}], "value": "#000000"}
          }
        },
        {
          "data": {"name": "vol"},
          "transform": [{"filter": "datum.a==1"}],
          "mark": {"type": "point", "shape": "arrow", "filled": true, "color": "#000000", "size": 75, "angle": 45, "yOffset": -8, "xOffset": -1, "opacity": 1},
          "encoding": {
            "y": {"field": "v", "type": "quantitative", "scale": {"domain": [-1467, 25733], "nice": false, "zero": false, "padding": 0}}
          }
        },
        {
          "data": {"name": "vsegs"},
          "mark": {"type": "rule"},
          "encoding": {
            "x2": {"field": "k2"},
            "y": {"field": "v", "type": "quantitative", "scale": {"domain": [-1467, 25733], "nice": false, "zero": false, "padding": 0}},
            "y2": {"field": "v2"},
            "color": {"condition": [{"test": "datum.s=='tr'||datum.s=='TR'", "value": "#d8203f"}, {"test": "datum.s=='dr'", "value": "#e0506a"}], "value": "#000000"},
            "strokeWidth": {"condition": [{"test": "datum.s=='TB'||datum.s=='TR'", "value": 2.6}, {"test": "datum.s=='DB'", "value": 3.2}], "value": 0.9},
            "strokeDash": {"condition": [{"test": "datum.s=='DB'", "value": [9, 5]}, {"test": "datum.s=='db'||datum.s=='dr'", "value": [3, 2]}], "value": [1, 0]}
          }
        },
        {
          "data": {"values": [{"k": 116.14, "v": 17800}]},
          "mark": {"type": "point", "shape": "triangle-up", "filled": true, "color": "#000000", "size": 230, "angle": 86.6, "opacity": 1},
          "encoding": {"y": {"field": "v", "type": "quantitative", "scale": {"domain": [-1467, 25733], "nice": false, "zero": false, "padding": 0}}}
        },
        {
          "data": {"values": [{"k": 117, "v": 15730}]},
          "mark": {"type": "point", "shape": "triangle-up", "filled": true, "color": "#000000", "size": 230, "angle": 76, "opacity": 1},
          "encoding": {"y": {"field": "v", "type": "quantitative", "scale": {"domain": [-1467, 25733], "nice": false, "zero": false, "padding": 0}}}
        },
        {
          "data": {"values": [{"k": 121.4, "v": 8440}]},
          "mark": {"type": "point", "shape": "triangle-up", "filled": true, "color": "#000000", "size": 200, "angle": 33, "opacity": 1},
          "encoding": {"y": {"field": "v", "type": "quantitative", "scale": {"domain": [-1467, 25733], "nice": false, "zero": false, "padding": 0}}}
        },
        {
          "data": {"values": [{"k": -1.85, "v": -800, "t": "© 2012 NinjaTrader, LLC"}]},
          "mark": {"type": "text", "fontSize": 11.5, "color": "#000000", "align": "left", "baseline": "middle"},
          "encoding": {
            "y": {"field": "v", "type": "quantitative", "scale": {"domain": [-1467, 25733], "nice": false, "zero": false, "padding": 0}},
            "text": {"field": "t"}
          }
        },
        {
          "data": {"values": [{"k": 135.9, "k2": 141.0, "v": 1700, "v2": 500}]},
          "mark": {"type": "rect", "color": "#ff0000"},
          "encoding": {
            "x2": {"field": "k2"},
            "y": {"field": "v", "type": "quantitative", "scale": {"domain": [-1467, 25733], "nice": false, "zero": false, "padding": 0}},
            "y2": {"field": "v2"}
          }
        },
        {
          "data": {"values": [{"k": 135.6, "v": 1100}]},
          "mark": {"type": "point", "shape": "triangle-left", "filled": true, "color": "#ff0000", "size": 60, "opacity": 1},
          "encoding": {"y": {"field": "v", "type": "quantitative", "scale": {"domain": [-1467, 25733], "nice": false, "zero": false, "padding": 0}}}
        },
        {
          "data": {"values": [{"k": 138.4, "v": 800, "t": "1345"}]},
          "mark": {"type": "text", "fontSize": 11, "color": "#ffffff", "align": "center", "baseline": "middle"},
          "encoding": {
            "y": {"field": "v", "type": "quantitative", "scale": {"domain": [-1467, 25733], "nice": false, "zero": false, "padding": 0}},
            "text": {"field": "t"}
          }
        },
        {
          "data": {"values": [{"k": 135.9, "k2": 141.0, "v": 3050, "v2": 1200}]},
          "mark": {"type": "rect", "color": "#48e0d0", "stroke": "#2a9d90", "strokeWidth": 0.5},
          "encoding": {
            "x2": {"field": "k2"},
            "y": {"field": "v", "type": "quantitative", "scale": {"domain": [-1467, 25733], "nice": false, "zero": false, "padding": 0}},
            "y2": {"field": "v2"}
          }
        },
        {
          "data": {"values": [{"k": 135.6, "v": 2125}]},
          "mark": {"type": "point", "shape": "triangle-left", "filled": true, "color": "#48e0d0", "size": 70, "opacity": 1},
          "encoding": {"y": {"field": "v", "type": "quantitative", "scale": {"domain": [-1467, 25733], "nice": false, "zero": false, "padding": 0}}}
        },
        {
          "data": {"values": [{"k": 138.4, "v": 2125, "t": "2210"}]},
          "mark": {"type": "text", "fontSize": 11, "color": "#0a3a36", "align": "center", "baseline": "middle"},
          "encoding": {
            "y": {"field": "v", "type": "quantitative", "scale": {"domain": [-1467, 25733], "nice": false, "zero": false, "padding": 0}},
            "text": {"field": "t"}
          }
        },
        {
          "data": {"values": [{"k": -2.1, "k2": 142.7, "v": 84533, "v2": -7200}]},
          "mark": {"type": "rect", "filled": false, "color": "#000000", "strokeWidth": 1},
          "encoding": {
            "x2": {"field": "k2"},
            "y": {"field": "v", "type": "quantitative", "scale": {"domain": [-1467, 25733], "nice": false, "zero": false, "padding": 0}},
            "y2": {"field": "v2"}
          }
        }
      ]
    }
  ]
}
